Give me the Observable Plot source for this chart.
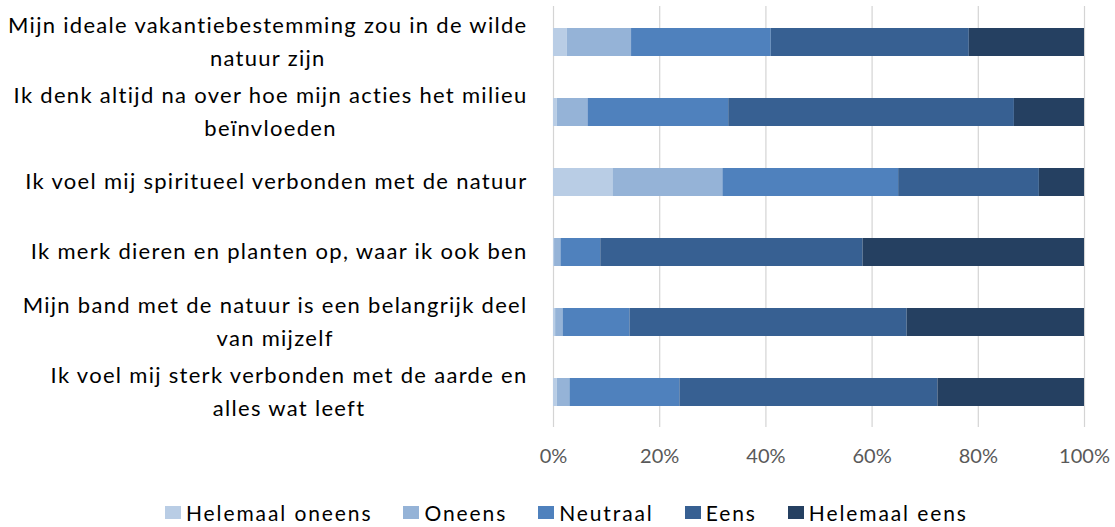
<!DOCTYPE html>
<html><head><meta charset="utf-8">
<script src="https://cdn.jsdelivr.net/npm/d3@7"></script>
<script src="https://cdn.jsdelivr.net/npm/@observablehq/plot@0.6"></script>
<style>
body{margin:0;background:#fff;}
#chart{width:1115px;height:527px;position:relative;overflow:hidden;background:#fff;font-family:Lato,sans-serif;}
#legend{position:absolute;left:165px;top:498px;}
#chart .lg-swatches{font-family:Lato,sans-serif;font-size:21px;letter-spacing:1.9px;color:#000;min-height:28px;margin:0;display:flex;align-items:center;}
#chart .lg-swatch{margin-right:31px;display:inline-flex;align-items:center;}
#chart .lg-swatch svg{margin-right:5px;}
#plot g[aria-label="text"] text{letter-spacing:1.3px;}
</style></head><body><div id="chart"><div id="plot"></div><div id="legend"></div></div>
<script>
const categories = [
  "Mijn ideale vakantiebestemming zou in de wilde natuur zijn",
  "Ik denk altijd na over hoe mijn acties het milieu beïnvloeden",
  "Ik voel mij spiritueel verbonden met de natuur",
  "Ik merk dieren en planten op, waar ik ook ben",
  "Mijn band met de natuur is een belangrijk deel van mijzelf",
  "Ik voel mij sterk verbonden met de aarde en alles wat leeft"
];
const labelLines = [
  "Mijn ideale vakantiebestemming zou in de wilde\nnatuur zijn",
  "Ik denk altijd na over hoe mijn acties het milieu\nbeïnvloeden",
  "Ik voel mij spiritueel verbonden met de natuur",
  "Ik merk dieren en planten op, waar ik ook ben",
  "Mijn band met de natuur is een belangrijk deel\nvan mijzelf",
  "Ik voel mij sterk verbonden met de aarde en\nalles wat leeft"
];
const series = ["Helemaal oneens", "Oneens", "Neutraal", "Eens", "Helemaal eens"];
const helemaalOneens = [2.6, 0.7, 11.2, 0.2, 0.4, 0.7];
const oneens         = [12.1, 5.8, 20.7, 1.2, 1.4, 2.4];
const neutraal       = [26.3, 26.5, 33.1, 7.5, 12.6, 20.7];
const eens           = [37.3, 53.8, 26.5, 49.4, 52.2, 48.6];
const helemaalEens   = [21.7, 13.2, 8.5, 41.7, 33.4, 27.6];
const colors = ["#b9cde5", "#95b3d7", "#4f81bd", "#376092", "#254061"];
const xTicks = [0, 20, 40, 60, 80, 100];

const seriesValues = [helemaalOneens, oneens, neutraal, eens, helemaalEens];
const table = categories.flatMap((c, i) => series.map((s, j) => ({category: c, series: s, value: seriesValues[j][i]})));

const plot = Plot.plot({
  width: 1115, height: 475,
  marginLeft: 553, marginRight: 31, marginTop: 6, marginBottom: 48,
  style: {fontFamily: "Lato, sans-serif", fontSize: "20px", background: "#fff", color: "#000"},
  x: {domain: [0, 100], label: null},
  y: {domain: categories, paddingInner: 0.6, paddingOuter: 0.3, axis: null},
  color: {domain: series, range: colors},
  marks: [
    Plot.ruleX(xTicks, {stroke: "#d4d4d4", strokeWidth: 1.2}),
    Plot.barX(table, Plot.stackX({y: "category", x: "value", fill: "series", order: series})),
    Plot.axisX({ticks: xTicks, tickFormat: d => d + "%", tickSize: 0, tickPadding: 21, fill: "#595959", fontSize: 20, label: null}),
    Plot.text(categories, {y: d => d, text: (d, i) => labelLines[i], frameAnchor: "left", dx: -26, dy: -4, textAnchor: "middle", lineHeight: 1.5, fill: "#000", fontSize: 22})
  ]
});
document.getElementById("plot").appendChild(plot);
const legend = plot.legend("color", {className: "lg", swatchWidth: 16, swatchHeight: 13});
document.getElementById("legend").appendChild(legend);

// Excel style: label block right-aligned, lines centred within the block
plot.querySelectorAll('g[aria-label="text"] text').forEach(t => {
  const spans = t.querySelectorAll("tspan");
  const w = spans.length ? Math.max(...Array.from(spans, s => s.getComputedTextLength())) : t.getComputedTextLength();
  t.setAttribute("transform", (t.getAttribute("transform") || "") + ` translate(${-w / 2},0)`);
});
</script></body></html>
